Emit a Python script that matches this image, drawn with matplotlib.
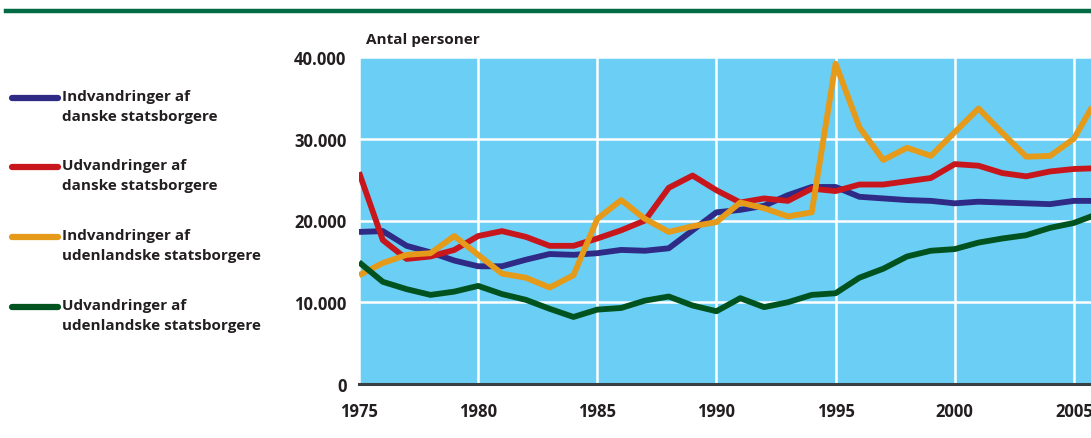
import matplotlib
matplotlib.use("Agg")
import matplotlib.pyplot as plt
from matplotlib.lines import Line2D

plt.rcParams['font.family'] = ['Open Sans', 'DejaVu Sans']

# --- data ---
years = list(range(1975, 2007))

indv_danske = [18.6, 18.7, 16.9, 16.1, 15.1, 14.4, 14.4, 15.2, 15.9, 15.8,
               16.0, 16.4, 16.3, 16.6, 18.8, 21.0, 21.3, 21.8, 23.1, 24.1,
               24.1, 22.9, 22.7, 22.5, 22.4, 22.1, 22.3, 22.2, 22.1, 22.0,
               22.4, 22.4]
udv_danske = [25.9, 17.6, 15.3, 15.6, 16.4, 18.1, 18.7, 18.0, 16.9, 16.9,
              17.8, 18.8, 20.0, 24.0, 25.5, 23.7, 22.2, 22.7, 22.4, 23.9,
              23.6, 24.4, 24.4, 24.8, 25.2, 26.9, 26.7, 25.8, 25.4, 26.0,
              26.3, 26.4]
indv_udl = [13.3, 14.8, 15.8, 16.0, 18.1, 15.8, 13.5, 13.0, 11.8, 13.3,
            20.2, 22.5, 20.2, 18.6, 19.3, 19.8, 22.2, 21.5, 20.5, 21.0,
            39.2, 31.4, 27.4, 28.9, 27.9, 30.8, 33.7, 30.7, 27.8, 27.9,
            30.0, 35.1]
udv_udl = [14.9, 12.5, 11.6, 10.9, 11.3, 12.0, 11.0, 10.3, 9.2, 8.2,
           9.1, 9.3, 10.2, 10.7, 9.6, 8.9, 10.5, 9.4, 10.0, 10.9,
           11.1, 13.0, 14.1, 15.6, 16.3, 16.5, 17.3, 17.8, 18.2, 19.1,
           19.7, 20.8]

serier = [
    ("Indvandringer af\ndanske statsborgere", indv_danske, "#2e2a86"),
    ("Udvandringer af\ndanske statsborgere", udv_danske, "#c8161d"),
    ("Indvandringer af\nudenlandske statsborgere", indv_udl, "#e59a1a"),
    ("Udvandringer af\nudenlandske statsborgere", udv_udl, "#00531f"),
]

yticks = [0, 10000, 20000, 30000, 40000]
ytick_labels = ["0", "10.000", "20.000", "30.000", "40.000"]
xticks = [1975, 1980, 1985, 1990, 1995, 2000, 2005]

tekst_farve = "#231f20"

# --- figur ---
fig = plt.figure(figsize=(10.91, 4.39), dpi=100)
W, H = 1091, 439
ax = fig.add_axes([359 / W, (H - 385) / H, (W - 359) / W, (385 - 58) / H])
ax.set_facecolor("#6bcef4")

for navn, vals, farve in serier:
    ax.plot(years, [v * 1000 for v in vals], color=farve, linewidth=4.2,
            solid_joinstyle="round", solid_capstyle="butt", zorder=3)

ax.set_xlim(1975, 2005.72)
ax.set_ylim(0, 40000)
ax.set_xticks(xticks)
ax.set_xticklabels([str(x) for x in xticks])
ax.set_yticks(yticks)
ax.set_yticklabels(ytick_labels)
ax.grid(True, color="white", linewidth=1.8, zorder=1)
ax.set_axisbelow(True)
ax.tick_params(length=0, labelsize=12, colors=tekst_farve)
ax.tick_params(axis="x", pad=13)
ax.tick_params(axis="y", pad=9)
for lbl in ax.get_xticklabels() + ax.get_yticklabels():
    lbl.set_fontweight("bold")

for side in ["top", "right", "left"]:
    ax.spines[side].set_visible(False)
ax.spines["bottom"].set_color("#3a3f44")
ax.spines["bottom"].set_linewidth(2.2)
ax.spines["bottom"].set_zorder(4)

ax.text(0.01, 1.035, "Antal personer", transform=ax.transAxes, fontsize=11,
        fontweight="bold", color=tekst_farve, va="bottom", ha="left")

# --- legende til venstre ---
legend_y = [99, 168, 238, 308]
for (navn, vals, farve), ly in zip(serier, legend_y):
    fig.add_artist(Line2D([12 / W, 58 / W], [(H - ly) / H, (H - ly) / H],
                          color=farve, linewidth=4.5, solid_capstyle="round"))
    fig.text(62 / W, (H - ly + 9) / H, navn, fontsize=11, fontweight="bold",
             color=tekst_farve, va="top", ha="left", linespacing=1.55)

# grøn linje øverst
fig.add_artist(Line2D([6 / W, 1.0], [(H - 12) / H, (H - 12) / H],
                      color="#006b45", linewidth=3.2))

fig.savefig("out.png", dpi=100)
